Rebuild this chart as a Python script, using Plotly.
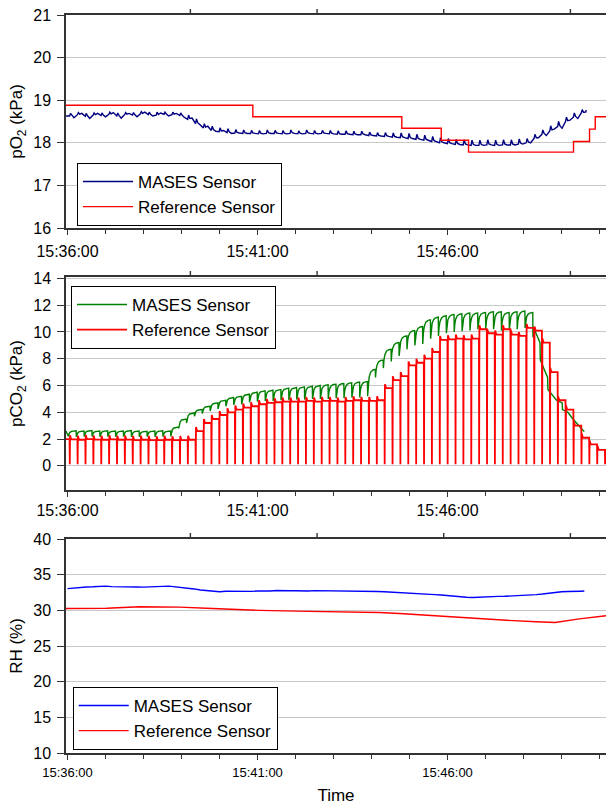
import plotly.graph_objects as go
from datetime import datetime, timedelta

BASE = datetime(2000, 1, 1, 15, 36, 0)
X_START, X_END = -2.4, 850.2          # seconds after 15:36:00

# timing of the reference analyser sampling cycle (seconds)
CYCLE_T0 = 3.2
CYCLE_P = 12.43

# ---------------- pO2 panel ----------------
o2_ref_t = [X_START, 292.6, 527.8, 590.1, 633.2, 798.9, 824.2, 833.2, X_END]
o2_ref = [18.88, 18.61, 18.34, 18.06, 17.78, 18.03, 18.32, 18.61, 18.61]

o2_mases = [18.63, 18.66, 18.62, 18.65, 18.64, 18.67, 18.63, 18.66, 18.65, 18.68,
            18.66, 18.65, 18.67, 18.66, 18.64,
            18.55, 18.45, 18.35, 18.29, 18.26, 18.24, 18.23,
            18.22, 18.22, 18.21, 18.22, 18.22, 18.21, 18.22, 18.21, 18.22, 18.21,
            18.22, 18.21, 18.20, 18.20, 18.19, 18.19,
            18.17, 18.16, 18.15, 18.13, 18.12, 18.10, 18.08, 18.06, 18.03, 18.00,
            17.98, 17.96, 17.95,
            17.94, 17.94, 17.95, 17.94, 17.95, 17.95, 17.97,
            18.00, 18.10, 18.20, 18.28, 18.38, 18.50, 18.60, 18.70]
o2_mases_amp = [0.06, 0.05, 0.07, 0.05, 0.06, 0.05, 0.07, 0.05, 0.06, 0.05,
                0.06, 0.07, 0.05, 0.06, 0.06,
                0.10, 0.11, 0.10, 0.10, 0.09, 0.09, 0.08,
                0.08, 0.07, 0.08, 0.08, 0.07, 0.08, 0.08, 0.07, 0.08, 0.08,
                0.07, 0.08, 0.08, 0.08, 0.08, 0.08,
                0.08, 0.08, 0.09, 0.10, 0.11, 0.12, 0.12, 0.12, 0.12, 0.12,
                0.12, 0.12, 0.12,
                0.12, 0.12, 0.12, 0.12, 0.12, 0.12, 0.12,
                0.10, 0.10, 0.10, 0.12, 0.12, 0.10, 0.10, 0.08]
# small mid-cycle wobble of the MASES pO2 reading (early, noisier part)
o2_mases_wob = [-0.04, 0.03, -0.05, 0.04, -0.03, 0.04, -0.05, 0.03, -0.04, 0.04,
                -0.03, 0.05, -0.04, 0.03, -0.04,
                0.03, -0.03, 0.04, -0.02, 0.03, -0.02, 0.0,
                0.0, 0.0, 0.0, 0.0, 0.0, 0.0, 0.0, 0.0, 0.0, 0.0,
                0.0, 0.0, 0.0, 0.0, 0.0, 0.0,
                0.0, 0.0, 0.0, 0.0, 0.0, 0.0, 0.0, 0.0, 0.0, 0.0,
                0.0, 0.0, 0.0,
                0.0, 0.0, 0.0, 0.0, 0.0, 0.0, 0.0,
                0.0, 0.02, -0.03, 0.04, -0.04, 0.03, -0.03, 0.02]
o2_mases_end = (819.0, 18.77)

# ---------------- pCO2 panel ----------------
co2_ref_start = 2.0
co2_ref = [1.98, 1.95, 2.0, 1.96, 1.95, 1.98, 1.95, 1.96, 1.93, 1.95, 1.93, 1.92, 1.95, 1.92, 1.93, 1.95,
           2.6, 3.2, 3.5, 3.8, 4.0, 4.2, 4.35, 4.45, 4.6, 4.7,
           4.75, 4.8, 4.8, 4.8, 4.85, 4.8, 4.85, 4.85, 4.8, 4.85, 4.9, 4.85, 4.85, 4.9,
           5.8, 6.4, 6.7, 7.5, 7.7, 8.0, 8.5, 9.4, 9.45, 9.5, 9.45, 9.5,
           10.2, 9.9, 9.8, 10.2, 9.8, 9.7, 10.3, 10.1, 9.2,
           7.0, 4.9, 4.2, 3.0, 2.1, 1.6, 1.2, 0.9]
co2_ref_floor = 0.12
co2_ref_bump = 0.3

co2_mases_start = 2.6
co2_mases_lo = [2.2, 2.18, 2.2, 2.2, 2.17, 2.2, 2.18, 2.2, 2.17, 2.18, 2.2, 2.18, 2.2,
                2.2, 2.8, 3.2, 3.7, 3.9, 4.1, 4.25, 4.45, 4.55, 4.6,
                4.75, 4.8, 4.85, 4.85, 4.9, 4.9, 4.95, 4.95, 5.0, 5.0, 5.0, 5.05, 5.05, 5.1, 5.1,
                5.2, 6.6, 7.3, 7.8, 8.2, 8.7, 9.0, 9.1, 9.5, 9.7, 9.9, 10.0, 10.05, 10.1,
                10.2, 10.2, 10.2, 10.1, 10.2, 10.2, 10.3]
co2_mases_hi = [2.62, 2.6, 2.63, 2.6, 2.62, 2.6, 2.6, 2.63, 2.6, 2.58, 2.6, 2.62, 2.6,
                2.9, 3.5, 3.95, 4.2, 4.45, 4.7, 4.9, 5.1, 5.2, 5.35,
                5.5, 5.6, 5.65, 5.7, 5.8, 5.85, 5.9, 5.95, 6.0, 6.05, 6.1, 6.15, 6.2, 6.25, 6.3,
                7.2, 7.9, 8.7, 9.2, 9.7, 10.1, 10.4, 10.9, 11.1, 11.2, 11.3, 11.35, 11.4, 11.4,
                11.45, 11.5, 11.5, 11.45, 11.5, 11.55, 11.45]
co2_mases_tail_t = [734.9, 737.0, 746.0, 746.5, 758.0, 758.5, 772.0, 781.0, 781.5, 790.0, 798.0, 813.0, 816.0]
co2_mases_tail = [9.6, 10.2, 9.2, 7.9, 6.6, 5.7, 4.9, 4.7, 4.2, 4.0, 3.5, 2.7, 2.57]
CO2_LEAD = 2.0   # MASES drop precedes the reference sampling spike

# ---------------- RH panel ----------------
rh_mases_t = [0, 10, 20, 30, 40, 50, 60, 70, 80, 90, 100, 110, 120, 130, 140, 150, 160, 170,
              180, 190, 200, 210, 220, 230, 240, 250, 260, 270, 280, 290, 300, 310, 320, 330,
              340, 350, 360, 370, 380, 390, 400, 410, 420, 430, 440, 450, 460, 470, 480, 490,
              500, 510, 520, 530, 540, 550, 560, 570, 580, 590, 600, 610, 620, 630, 640, 650,
              660, 670, 680, 690, 700, 710, 720, 730, 740, 750, 760, 770, 780, 790, 800, 810, 816]
rh_mases = [33.05, 33.15, 33.2, 33.28, 33.3, 33.36, 33.4, 33.33, 33.3, 33.24, 33.2, 33.27, 33.25,
            33.32, 33.3, 33.36, 33.4, 33.31, 33.25, 33.1, 33.0, 32.85, 32.75, 32.66, 32.6,
            32.67, 32.65, 32.72, 32.7, 32.66, 32.7, 32.76, 32.72, 32.77, 32.8, 32.74, 32.75,
            32.71, 32.7, 32.76, 32.75, 32.81, 32.8, 32.74, 32.75, 32.69, 32.7, 32.73, 32.7,
            32.63, 32.6, 32.56, 32.5, 32.48, 32.45, 32.38, 32.35, 32.25, 32.2, 32.14, 32.05,
            31.95, 31.9, 31.83, 31.8, 31.86, 31.9, 31.88, 31.95, 31.97, 32.0, 32.06, 32.05,
            32.15, 32.2, 32.28, 32.4, 32.47, 32.6, 32.63, 32.7, 32.68, 32.7]
rh_ref_t = [X_START, 62, 114, 177, 229, 303, 382, 450, 492, 524, 598, 630, 693, 740, 770, 808, X_END]
rh_ref = [30.25, 30.3, 30.5, 30.45, 30.25, 30.0, 29.85, 29.78, 29.7, 29.55, 29.1, 28.95, 28.6,
          28.4, 28.3, 28.8, 29.25]

# tick marks of the (unlabelled) top frame axis
top_tick_s = [194, 394, 594, 794]


def dt(seq):
    return [BASE + timedelta(seconds=float(s)) for s in seq]


# build pO2 MASES line
o_t, o_v = [X_START], [o2_mases[0]]
for k, (b, a, w) in enumerate(zip(o2_mases, o2_mases_amp, o2_mases_wob)):
    tk = CYCLE_T0 + k * CYCLE_P
    o_t += [tk, tk + 1.5, tk + 3.5, tk + 7.0]
    o_v += [b, b + a, b + 0.2 * a, b + w]
o_t.append(o2_mases_end[0]); o_v.append(o2_mases_end[1])

# build pCO2 reference line
r_t, r_v = [X_START], [co2_ref_start]
prev = co2_ref_start
for k, v in enumerate(co2_ref):
    tk = CYCLE_T0 + k * CYCLE_P
    r_t += [tk, tk + 0.35, tk + 0.75, tk + 2.6]
    r_v += [prev, co2_ref_floor, v + co2_ref_bump, v]
    prev = v
r_t.append(X_END); r_v.append(prev)

# build pCO2 MASES line
FR = [0.0, 0.08, 0.2, 0.4, 0.7, 1.0]
HH = [0.0, 0.45, 0.72, 0.9, 0.98, 1.0]
g_t, g_v = [X_START], [co2_mases_start]
for k, (lo, hi) in enumerate(zip(co2_mases_lo, co2_mases_hi)):
    s0 = CYCLE_T0 + k * CYCLE_P - CO2_LEAD + 0.3
    span = CYCLE_P - 0.3
    for f, h in zip(FR, HH):
        g_t.append(s0 + f * span)
        g_v.append(lo + (hi - lo) * h)
g_t += co2_mases_tail_t
g_v += co2_mases_tail

RED = "#FF0000"
FONT = "Liberation Sans, Arial, sans-serif"
AX = "#333333"
GRID = "#C8C8C8"

fig = go.Figure()
fig.add_trace(go.Scatter(x=dt(o_t), y=o_v, mode="lines", name="MASES Sensor",
                         line=dict(color="#000080", width=1.4), xaxis="x", yaxis="y", legend="legend"))
fig.add_trace(go.Scatter(x=dt(o2_ref_t), y=o2_ref, mode="lines", name="Reference Sensor",
                         line=dict(color=RED, width=1.4, shape="hv"), xaxis="x", yaxis="y", legend="legend"))
fig.add_trace(go.Scatter(x=dt(g_t), y=g_v, mode="lines", name="MASES Sensor",
                         line=dict(color="#008000", width=1.4), xaxis="x2", yaxis="y2", legend="legend2"))
fig.add_trace(go.Scatter(x=dt(r_t), y=r_v, mode="lines", name="Reference Sensor",
                         line=dict(color=RED, width=1.8), xaxis="x2", yaxis="y2", legend="legend2"))
fig.add_trace(go.Scatter(x=dt(rh_mases_t), y=rh_mases, mode="lines", name="MASES Sensor",
                         line=dict(color="#0000FF", width=1.4), xaxis="x3", yaxis="y3", legend="legend3"))
fig.add_trace(go.Scatter(x=dt(rh_ref_t), y=rh_ref, mode="lines", name="Reference Sensor",
                         line=dict(color=RED, width=1.4), xaxis="x3", yaxis="y3", legend="legend3"))

xr = dt([X_START, X_END])


def xbottom(anchor, fsize, standoff):
    return dict(type="date", range=xr, anchor=anchor, domain=[0, 1],
                tickformat="%H:%M:%S", tick0=BASE, dtick=300000,
                ticks="outside", ticklen=5, tickwidth=1.2, tickcolor=AX,
                ticklabelstandoff=standoff, mirror=True,
                showline=True, linecolor=AX, linewidth=1.5, showgrid=False, zeroline=False,
                tickfont=dict(size=fsize, color="black", family=FONT),
                minor=dict(dtick=60000, tick0=BASE, ticks="outside", ticklen=4,
                           tickwidth=1.2, tickcolor=AX, showgrid=False))


def yax(dom, rng, dtick, title, anchor):
    return dict(domain=dom, range=rng, dtick=dtick, anchor=anchor,
                ticks="outside", ticklen=7, tickwidth=1.2, tickcolor=AX,
                ticklabelstandoff=3,
                showline=True, linecolor=AX, linewidth=1.5,
                showgrid=True, gridcolor=GRID, gridwidth=1, zeroline=False,
                tickfont=dict(size=16, color="black", family=FONT),
                title=dict(text=title, font=dict(size=17, color="black", family=FONT), standoff=6))


H_PLOT = 738.0


def frac(ypx):
    return (753 - ypx) / H_PLOT


leg_common = dict(xref="paper", yref="paper", xanchor="left", yanchor="top",
                  bgcolor="white", bordercolor="black", borderwidth=1,
                  font=dict(size=17, color="black", family=FONT), itemwidth=50,
                  tracegroupgap=0)

xa3 = xbottom("y3", 13, 2)
xa3["title"] = dict(text="Time", font=dict(size=17, color="black", family=FONT), standoff=10)

panel_h = {"y": 213.0, "y2": 213.0, "y3": 214.0}   # plot-area heights (px) for tick length
shapes = []
for yref_name, hpx in panel_h.items():
    for tv in dt(top_tick_s):
        shapes.append(dict(type="line", xref="x" if yref_name == "y" else "x" + yref_name[1:],
                           yref=yref_name + " domain", x0=tv, x1=tv, y0=1.0, y1=1.0 + 6.0 / hpx,
                           line=dict(color=AX, width=1.4), layer="above"))

fig.update_layout(
    width=607, height=808,
    margin=dict(l=66, r=1, t=15, b=55),
    paper_bgcolor="white", plot_bgcolor="white",
    font=dict(family=FONT, color="black"),
    xaxis=xbottom("y", 16, 3),
    xaxis2=xbottom("y2", 16, 0),
    xaxis3=xa3,
    yaxis=yax([frac(228), frac(15)], [16, 21], 1, "pO<sub>2</sub> (kPa)", "x"),
    yaxis2=yax([frac(490), frac(277)], [-1.8, 14.1], 2, "pCO<sub>2</sub> (kPa)", "x2"),
    yaxis3=yax([0, frac(539)], [10, 40], 5, "RH (%)", "x3"),
    legend=dict(x=(77 - 66) / 540, y=frac(163), **leg_common),
    legend2=dict(x=(71 - 66) / 540, y=frac(286), **leg_common),
    legend3=dict(x=(72.7 - 66) / 540, y=frac(687), **leg_common),
    shapes=shapes,
    showlegend=True,
)

fig.write_html("out.html")
